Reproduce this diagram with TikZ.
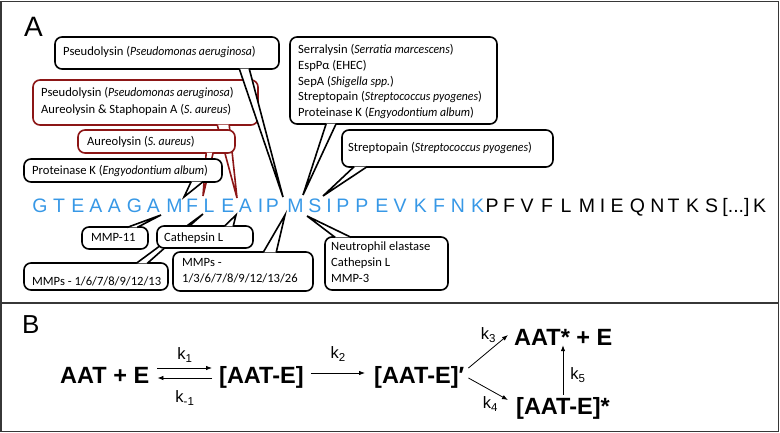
\documentclass[tikz,border=0pt]{standalone}
\usepackage{fontspec}
\setmainfont{Carlito}
\newfontfamily\arial{Liberation Sans}
\usepackage{graphicx}
\usetikzlibrary{arrows.meta}

\definecolor{seqblue}{RGB}{55,152,230}
\definecolor{boxred}{RGB}{140,22,22}
\definecolor{framegray}{RGB}{55,55,55}

\newcommand{\kk}[1]{k\raisebox{-3pt}{\fontsize{11.5}{11.5}\selectfont #1}}
\newcommand{\species}[1]{\scalebox{0.93}[1]{\textit{#1}}}

\tikzset{
  callout/.style={draw=black, fill=white, line width=1.6pt, rounded corners=7pt, inner sep=0pt},
  redcallout/.style={callout, draw=boxred},
  tail/.style={draw=black, fill=white, line width=1.6pt},
  redtail/.style={tail, draw=boxred},
  ctext/.style={inner sep=0pt, anchor=base west, font=\fontsize{12.6}{15.6}\selectfont},
  cblock/.style={inner sep=0pt, anchor=north west, align=left, font=\fontsize{12.6}{15.6}\selectfont},
  seq/.style={inner sep=0pt, anchor=base, font=\arial\fontsize{19.5}{19.5}\selectfont},
  rx/.style={inner sep=0pt, anchor=base west, text height=17pt, text depth=4.5pt, font=\arial\bfseries\fontsize{23.5}{23.5}\selectfont},
  klab/.style={inner sep=0pt, font=\arial\fontsize{16.5}{16.5}\selectfont},
  rarrow/.style={line width=0.8pt, -{Latex[length=6pt,width=4.5pt]}},
  panel/.style={inner sep=0pt, anchor=base west, font=\arial\fontsize{28}{28}\selectfont}
}

\begin{document}
\begin{tikzpicture}[x=1pt,y=-1pt]
  \useasboundingbox (0,0) rectangle (780,433);

  % frame and panels
  \draw[framegray, line width=1.5pt] (1,1.5) rectangle (778.5,431.5);
  \draw[framegray, line width=1.5pt] (1,303) -- (778.5,303);
  \node[panel] (labA) at (24,37) {A};
  \node[panel, font=\arial\fontsize{26}{26}\selectfont] (labB) at (22,333) {B};

  % sequence
  \foreach \c/\x [count=\i] in {G/40,T/59,E/78,A/96,A/114.5,G/134.5,A/153.5,M/174.5,F/192,L/209,E/228,A/245.5,I/260.5,P/272.5,M/295.5,S/315,I/329,P/343,P/362,E/382,V/400,K/420.5,F/439,N/458,K/477.5}
    \node[seq, seqblue] (s\i) at (\x,213) {\c};
  \foreach \c/\x [count=\i] in {P/492,F/509,V/527,F/547,L/566,M/587,I/602.5,E/617,Q/637.5,N/657.5,T/673.5,K/692.5,S/711.5,{[...]}/736,K/759.5}
    \node[seq] (t\i) at (\x,213) {\c};

  % cleavage points
  \coordinate (upMF) at (184,197);
  \coordinate (upFL) at (203,196);
  \coordinate (upEA) at (237,198);
  \coordinate (upPM) at (283,197);
  \coordinate (upMS) at (303,195);
  \coordinate (upSI) at (323,196);
  \coordinate (dnAM) at (161,215);
  \coordinate (dnFL) at (203,214);
  \coordinate (dnEA) at (236,215);
  \coordinate (dnPM) at (285,215);
  \coordinate (dnMS) at (307,216);

  % callouts above
  \node[redcallout, minimum width=225pt, minimum height=45pt] (pseudoB) at (145.5,102.5) {};
  \path[redtail] ([xshift=185pt,yshift=1.2pt]pseudoB.south west) -- (upEA) -- ([xshift=197pt,yshift=1.2pt]pseudoB.south west);
  \node[cblock] (pseudoBtxt) at (41,87.5) {Pseudolysin (\species{Pseudomonas aeruginosa})\\[0.8pt]Aureolysin \& Staphopain A (\species{S. aureus})};

  \node[redcallout, minimum width=157pt, minimum height=23pt] (aureo) at (156.5,141.5) {};
  \path[redtail] ([xshift=129pt,yshift=1.2pt]aureo.south west) -- (upFL) -- ([xshift=136pt,yshift=1.2pt]aureo.south west);
  \node[ctext] (aureotxt) at (87,146) {Aureolysin (\species{S. aureus})};

  \node[callout, minimum width=198pt, minimum height=23pt] (protK) at (123,170.5) {};
  \path[tail] ([xshift=168pt,yshift=1.2pt]protK.south west) -- (upMF) -- ([xshift=180pt,yshift=1.2pt]protK.south west);
  \node[ctext] (protKtxt) at (32,175) {Proteinase K (\species{Engyodontium album})};

  \node[callout, minimum width=224pt, minimum height=32pt] (pseudoA) at (167,53) {};
  \path[tail] ([xshift=185pt,yshift=1.2pt]pseudoA.south west) -- (upPM) -- ([xshift=195pt,yshift=1.2pt]pseudoA.south west);
  \node[ctext] (pseudoAtxt) at (63,56) {Pseudolysin (\species{Pseudomonas aeruginosa})};

  \node[callout, minimum width=207pt, minimum height=87pt] (serra) at (393.5,80.5) {};
  \path[tail] ([xshift=37pt,yshift=1.2pt]serra.south west) -- (upMS) -- ([xshift=47pt,yshift=1.2pt]serra.south west);
  \node[cblock] (serratxt) at (298,44.5) {Serralysin (\species{Serratia marcescens})\\EspPα (EHEC)\\SepA (\species{Shigella spp.})\\Streptopain (\species{Streptococcus pyogenes})\\Proteinase K (\species{Engyodontium album})};

  \node[callout, minimum width=211pt, minimum height=37pt] (strep) at (447.5,148.5) {};
  \path[tail] ([xshift=13pt,yshift=1.2pt]strep.south west) -- (upSI) -- ([xshift=26pt,yshift=1.2pt]strep.south west);
  \node[ctext] (streptxt) at (348,152) {Streptopain (\species{Streptococcus pyogenes})};

  % callouts below
  \node[callout, minimum width=144pt, minimum height=27pt] (mmpsA) at (96,276.5) {};
  \path[tail] ([xshift=113pt,yshift=-1.2pt]mmpsA.north west) -- (dnFL) -- ([xshift=124pt,yshift=-1.2pt]mmpsA.north west);
  \node[ctext] (mmpsAtxt) at (32,286) {MMPs - 1/6/7/8/9/12/13};

  \node[callout, minimum width=66pt, minimum height=22pt] (mmp11) at (115,238) {};
  \path[tail] ([xshift=46pt,yshift=-1.2pt]mmp11.north west) -- (dnAM) -- ([xshift=56pt,yshift=-1.2pt]mmp11.north west);
  \node[ctext] (mmp11txt) at (91,242) {MMP-11};

  \node[callout, minimum width=96pt, minimum height=22pt] (cathL) at (205,237) {};
  \path[tail] ([xshift=68pt,yshift=-1.2pt]cathL.north west) -- (dnEA) -- ([xshift=77pt,yshift=-1.2pt]cathL.north west);
  \node[ctext] (cathLtxt) at (164,242) {Cathepsin L};

  \node[callout, minimum width=140pt, minimum height=39pt] (mmpsB) at (243,271.5) {};
  \path[tail] ([xshift=91pt,yshift=-1.2pt]mmpsB.north west) -- (dnPM) -- ([xshift=104pt,yshift=-1.2pt]mmpsB.north west);
  \node[cblock] (mmpsBtxt) at (182,258.5) {MMPs -\\[0.4pt]1/3/6/7/8/9/12/13/26};

  \node[callout, minimum width=123pt, minimum height=53pt] (neut) at (386.5,263.5) {};
  \path[tail] ([xshift=11pt,yshift=-1.2pt]neut.north west) -- (dnMS) -- ([xshift=27pt,yshift=-1.2pt]neut.north west);
  \node[cblock] (neuttxt) at (331,242) {Neutrophil elastase\\Cathepsin L\\MMP-3};

  % reaction scheme
  \node[rx] (aat) at (60,383) {AAT + E};
  \node[rx] (c1) at (219,383) {[AAT-E]};
  \node[rx] (c2) at (374,383) {[AAT-E]′};
  \node[rx] (prod) at (514,345) {AAT* + E};
  \node[rx] (c3) at (516,414) {[AAT-E]*};

  \draw[rarrow] ([xshift=8pt,yshift=8.75pt]aat.east) -- node[klab, above=5pt] (k1) {\kk{1}} ([xshift=-7pt,yshift=8.75pt]c1.west);
  \draw[rarrow] ([xshift=-7pt,yshift=-1.25pt]c1.west) -- node[klab, below=12pt] (km1) {\kk{-1}} ([xshift=8pt,yshift=-1.25pt]aat.east);
  \draw[rarrow] ([xshift=7pt,yshift=3.75pt]c1.east) -- node[klab, above=11pt] (k2) {\kk{2}} ([xshift=-9pt,yshift=3.75pt]c2.west);
  \draw[rarrow] ([xshift=4pt,yshift=8.75pt]c2.east) -- node[klab, pos=1, left=12pt] (k3) {\kk{3}} ([xshift=-6pt,yshift=3.75pt]prod.west);
  \draw[rarrow] ([xshift=4pt,yshift=-1.25pt]c2.east) -- node[klab, pos=1, left=10pt, yshift=-4pt] (k4) {\kk{4}} ([xshift=-8pt,yshift=7.75pt]c3.west);
  \draw[rarrow] ([yshift=2pt]c3.north) coordinate (k5s) -- node[klab, pos=0.4, right=7pt] (k5) {\kk{5}} ([yshift=4.5pt]k5s |- prod.south);

\end{tikzpicture}
\end{document}
